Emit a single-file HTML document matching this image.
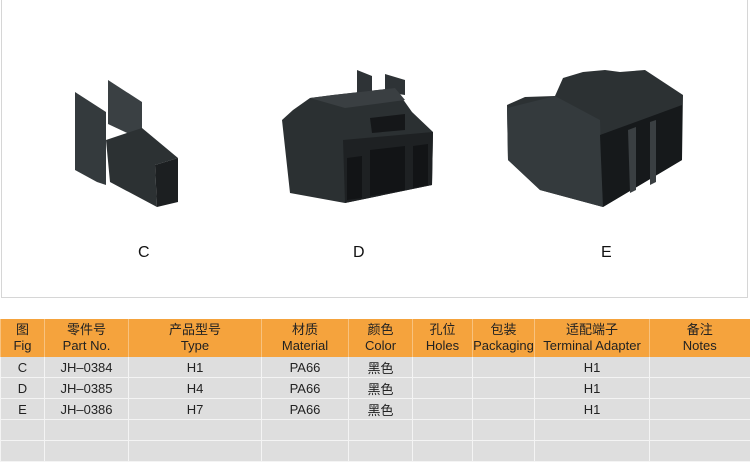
<!DOCTYPE html>
<html><head><meta charset="utf-8"><style>
body{margin:0;width:750px;height:461px;background:#fff;position:relative;overflow:hidden;font-family:"Liberation Sans","Noto Sans CJK SC",sans-serif;}
#panel{position:absolute;left:1px;top:-2px;width:745px;height:298px;border:1px solid #d6d6d6;background:#fff;}
table{position:absolute;left:0;top:319px;border-collapse:collapse;table-layout:fixed;}
td{padding:0;text-align:center;font-size:13px;color:#222;border-left:1px solid #f4f4f4;border-bottom:1px solid #f4f4f4;}
tr.h td{background:#f5a33d;height:38px;line-height:16px;border-left:1px solid #f8c27e;border-bottom:none;}
tr.r td{background:#dedede;height:20px;}
.lbl{position:absolute;font-size:16px;color:#111;}
</style></head><body>
<div id="panel"></div>
<svg width="750" height="300" style="position:absolute;left:0;top:0">
<polygon points="108,80 142,102 142,140 108,124" fill="#3a4043"/>
<polygon points="75,92 106,112 106,185 97,182 75,170" fill="#343a3d"/>
<polygon points="106,140 142,128 178,158 155,165 157,207 110,182" fill="#2c3133"/>
<polygon points="155,165 178,158 178,202 157,207" fill="#1c1f21"/>
<polygon points="357,70 372,76 372,100 357,95" fill="#2e3336"/>
<polygon points="385,74 405,80 405,95 385,92" fill="#2e3336"/>
<polygon points="282,120 293,110 310,98 333,95 395,88 412,112 433,132 432,185 345,203 290,193" fill="#2b3032"/>
<polygon points="343,140 433,132 432,185 345,203" fill="#1e2123"/>
<polygon points="370,118 405,114 405,130 372,133" fill="#151719"/>
<polygon points="370,150 405,146 405,190 370,196" fill="#121416"/>
<polygon points="347,158 362,156 362,198 347,200" fill="#121416"/>
<polygon points="413,146 428,144 428,185 413,188" fill="#121416"/>
<polygon points="310,98 333,95 395,88 405,100 345,108" fill="#3a3f42"/>
<polygon points="507,105 525,97 555,96 563,78 583,72 605,70 620,72 645,70 683,95 682,160 603,207 540,190 508,160" fill="#2c3133"/>
<polygon points="555,96 600,120 603,207 540,190 508,160 507,108" fill="#343a3d"/>
<polygon points="600,135 682,105 682,160 603,207" fill="#16191b"/>
<polygon points="628,130 636,127 636,190 630,193" fill="#3a3f42"/>
<polygon points="650,122 656,120 656,182 650,185" fill="#3a3f42"/>
</svg>
<div class="lbl" style="left:138px;top:244px">C</div>
<div class="lbl" style="left:353px;top:244px">D</div>
<div class="lbl" style="left:601px;top:244px">E</div>
<table>
<colgroup><col style="width:44px"><col style="width:84px"><col style="width:133px"><col style="width:87px"><col style="width:64px"><col style="width:60px"><col style="width:62px"><col style="width:115px"><col style="width:100px"></colgroup>
<tr class="h"><td>图<br>Fig</td><td>零件号<br>Part No.</td><td>产品型号<br>Type</td><td>材质<br>Material</td><td>颜色<br>Color</td><td>孔位<br>Holes</td><td>包装<br>Packaging</td><td>适配端子<br>Terminal Adapter</td><td>备注<br>Notes</td></tr>
<tr class="r"><td>C</td><td>JH–0384</td><td>H1</td><td>PA66</td><td>黑色</td><td></td><td></td><td>H1</td><td></td></tr>
<tr class="r"><td>D</td><td>JH–0385</td><td>H4</td><td>PA66</td><td>黑色</td><td></td><td></td><td>H1</td><td></td></tr>
<tr class="r"><td>E</td><td>JH–0386</td><td>H7</td><td>PA66</td><td>黑色</td><td></td><td></td><td>H1</td><td></td></tr>
<tr class="r"><td></td><td></td><td></td><td></td><td></td><td></td><td></td><td></td><td></td></tr>
<tr class="r"><td></td><td></td><td></td><td></td><td></td><td></td><td></td><td></td><td></td></tr>
</table>
</body></html>
